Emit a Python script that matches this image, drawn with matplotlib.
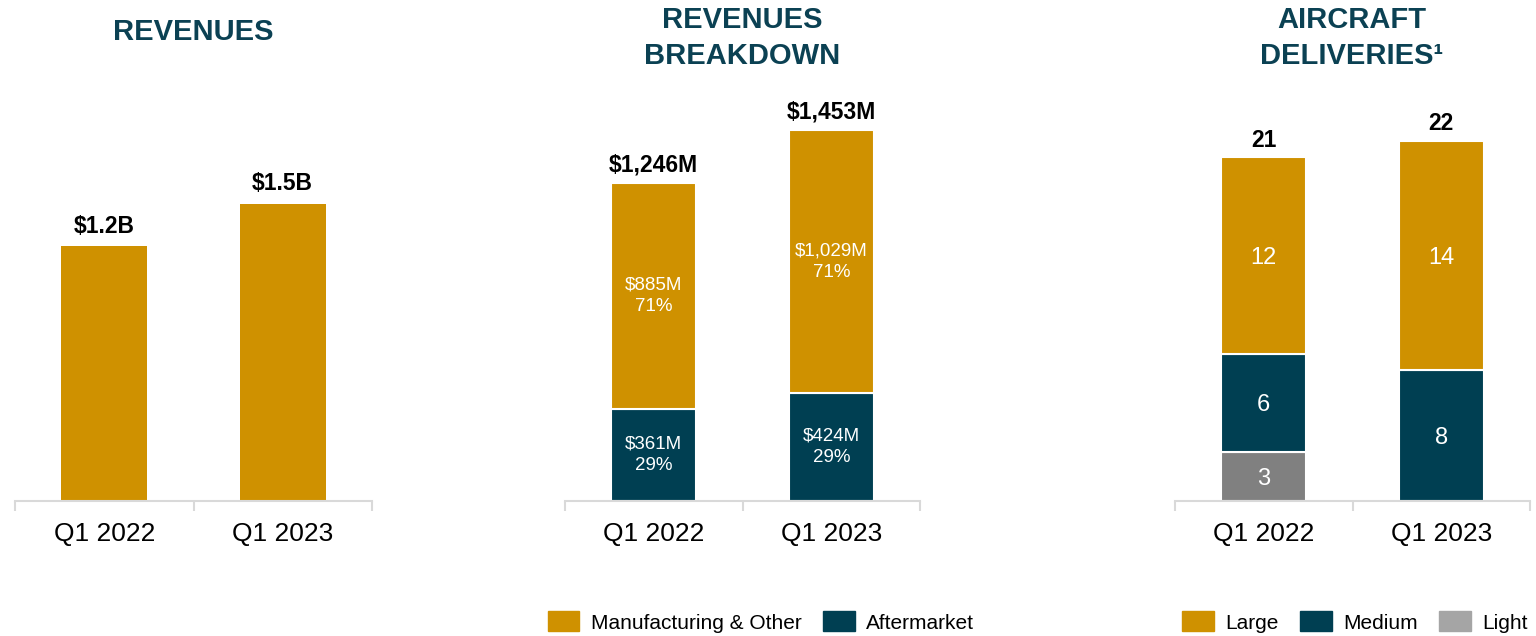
import matplotlib
matplotlib.use("Agg")
import matplotlib.pyplot as plt
from matplotlib.patches import Patch

plt.rcParams['font.family'] = ['Liberation Sans', 'DejaVu Sans']

GOLD = "#CF9100"
TEAL = "#003F52"
GRAY = "#808080"
GRAY_LEG = "#A5A5A5"
AXIS = "#D9D9D9"
TITLE = "#0B4153"

quarters = ["Q1 2022", "Q1 2023"]

# revenues, $M
revenues = [1246, 1453]
revenue_labels = ["$1.2B", "$1.5B"]

# breakdown, $M
manufacturing = [885, 1029]
aftermarket = [361, 424]
manufacturing_labels = ["$885M\n71%", "$1,029M\n71%"]
aftermarket_labels = ["$361M\n29%", "$424M\n29%"]
breakdown_totals = ["$1,246M", "$1,453M"]

# deliveries
large = [12, 14]
medium = [6, 8]
light = [3, 0]
delivery_totals = ["21", "22"]

W, H = 1536, 636
fig = plt.figure(figsize=(W / 100, H / 100), dpi=100)


def make_ax(left, width, top=100, base=501):
    return fig.add_axes([left / W, (H - base) / H, width / W, (base - top) / H])


def style_ax(ax, ymax):
    ax.set_xlim(-0.5, 1.5)
    ax.set_ylim(0, ymax)
    for s in ["top", "right", "left"]:
        ax.spines[s].set_visible(False)
    ax.spines["bottom"].set_color(AXIS)
    ax.spines["bottom"].set_linewidth(1.5)
    ax.set_yticks([])
    ax.set_xticks([0, 1])
    ax.set_xticklabels(quarters, fontsize=19)
    ax.tick_params(axis="x", which="major", length=0, pad=15)
    ax.set_xticks([-0.5, 0.5, 1.5], minor=True)
    ax.tick_params(axis="x", which="minor", length=7, width=1.5, color=AXIS)


x = [0, 1]
bw = 0.48

# panel 1
ax1 = make_ax(15, 357)
style_ax(ax1, 1960)
ax1.bar(x, revenues, width=bw, color=GOLD)
for xi, v, lab in zip(x, revenues, revenue_labels):
    ax1.annotate(lab, (xi, v), xytext=(0, 6), textcoords="offset points",
                 ha="center", va="bottom", fontsize=16.5, fontweight="bold")

# panel 2
ax2 = make_ax(565, 355)
style_ax(ax2, 1572)
ax2.bar(x, aftermarket, width=bw, color=TEAL, edgecolor="white", linewidth=1.5)
ax2.bar(x, manufacturing, width=bw, bottom=aftermarket, color=GOLD,
        edgecolor="white", linewidth=1.5)
for i in range(2):
    ax2.text(x[i], aftermarket[i] / 2, aftermarket_labels[i], ha="center",
             va="center", color="white", fontsize=13.5, linespacing=1.35)
    ax2.text(x[i], aftermarket[i] + manufacturing[i] / 2, manufacturing_labels[i],
             ha="center", va="center", color="white", fontsize=13.5, linespacing=1.35)
    ax2.annotate(breakdown_totals[i], (x[i], aftermarket[i] + manufacturing[i]),
                 xytext=(0, 5), textcoords="offset points", ha="center",
                 va="bottom", fontsize=16.5, fontweight="bold")

# panel 3
ax3 = make_ax(1175, 355)
style_ax(ax3, 24.5)
b_med = light
b_large = [l + m for l, m in zip(light, medium)]
ax3.bar(x, light, width=bw, color=GRAY, edgecolor="white", linewidth=1.5)
ax3.bar(x, medium, width=bw, bottom=b_med, color=TEAL, edgecolor="white", linewidth=1.5)
ax3.bar(x, large, width=bw, bottom=b_large, color=GOLD, edgecolor="white", linewidth=1.5)
for i in range(2):
    if light[i]:
        ax3.text(x[i], light[i] / 2, str(light[i]), ha="center",
                 va="center_baseline", color="white", fontsize=17)
    ax3.text(x[i], b_med[i] + medium[i] / 2, str(medium[i]), ha="center",
             va="center_baseline", color="white", fontsize=17)
    ax3.text(x[i], b_large[i] + large[i] / 2, str(large[i]), ha="center",
             va="center_baseline", color="white", fontsize=17)
    ax3.annotate(delivery_totals[i], (x[i], b_large[i] + large[i]),
                 xytext=(0, 4), textcoords="offset points", ha="center",
                 va="bottom", fontsize=16.5, fontweight="bold")

# titles
fig.text(193 / W, 1 - 32 / H, "REVENUES", ha="center", va="center",
         fontsize=21, fontweight="bold", color=TITLE)
fig.text(742 / W, 1 - 38 / H, "REVENUES\nBREAKDOWN", ha="center", va="center",
         fontsize=21, fontweight="bold", color=TITLE, linespacing=1.35)
fig.text(1352 / W, 1 - 38 / H, "AIRCRAFT\nDELIVERIES¹", ha="center", va="center",
         fontsize=21, fontweight="bold", color=TITLE, linespacing=1.35)

# legends
leg_kw = dict(loc="center", frameon=False, fontsize=15, handlelength=1.5,
              handleheight=1.1, handletextpad=0.55, columnspacing=1.05,
              borderpad=0, borderaxespad=0)
fig.legend([Patch(color=GOLD), Patch(color=TEAL)],
           ["Manufacturing & Other", "Aftermarket"], ncol=2,
           bbox_to_anchor=(761 / W, 1 - 622 / H), **leg_kw)
fig.legend([Patch(color=GOLD), Patch(color=TEAL), Patch(color=GRAY_LEG)],
           ["Large", "Medium", "Light"], ncol=3,
           bbox_to_anchor=(1355 / W, 1 - 622 / H), **leg_kw)

fig.savefig("out.png", dpi=100)
